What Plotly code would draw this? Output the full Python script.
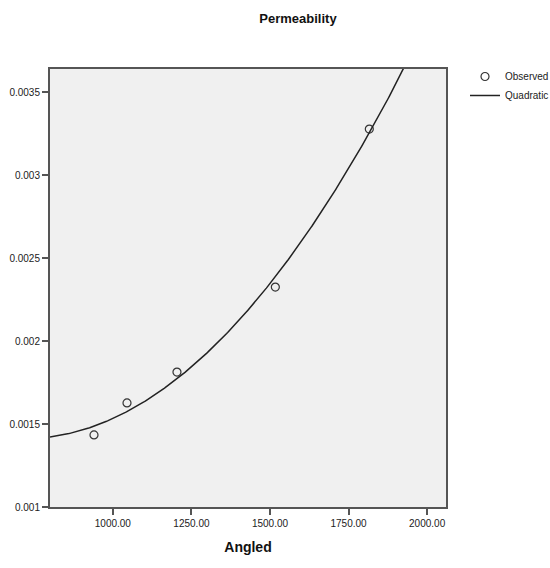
import numpy as np
import plotly.graph_objects as go

angled = [940, 1045, 1204, 1517, 1816]
permeability = [0.001434, 0.001627, 0.001813, 0.002325, 0.003277]

x_ticks = [1000, 1250, 1500, 1750, 2000]
x_labels = ["1000.00", "1250.00", "1500.00", "1750.00", "2000.00"]
y_ticks = [0.001, 0.0015, 0.002, 0.0025, 0.003, 0.0035]
y_labels = ["0.001", "0.0015", "0.002", "0.0025", "0.003", "0.0035"]

# Quadratic fit of the observed values
coef = np.polyfit(angled, permeability, 2)
xf = np.linspace(800, 2060, 400)
yf = np.polyval(coef, xf)

fig = go.Figure()
fig.add_trace(go.Scatter(
    x=angled, y=permeability, mode="markers", name="Observed",
    marker=dict(symbol="circle-open", size=8, color="#333333", line=dict(width=1.2, color="#333333")),
))
fig.add_trace(go.Scatter(
    x=xf, y=yf, mode="lines", name="Quadratic",
    line=dict(color="#222222", width=1.5),
))

axis_font = dict(family="Liberation Sans, Arial, sans-serif", size=10, color="#222222")
fig.update_layout(
    width=550, height=568,
    margin=dict(l=50, r=104, t=69, b=61, autoexpand=False),
    paper_bgcolor="white",
    plot_bgcolor="#f0f0f0",
    title=dict(text="<b>Permeability</b>", x=298/550, xanchor="center", y=1-18/568, yanchor="middle",
               font=dict(family="Liberation Sans, Arial, sans-serif", size=13, color="#111111")),
    xaxis=dict(range=[800, 2060], tickvals=x_ticks, ticktext=x_labels, showgrid=False, zeroline=False,
               ticks="outside", ticklen=6, tickcolor="#555555", tickwidth=1.5,
               showline=True, linecolor="#555555", linewidth=2, mirror=True,
               tickfont=axis_font,
               title=dict(text="<b>Angled</b>", font=dict(family="Liberation Sans, Arial, sans-serif", size=14, color="#111111"), standoff=14)),
    yaxis=dict(range=[0.001, 0.003639], tickvals=y_ticks, ticktext=y_labels, showgrid=False, zeroline=False,
               ticks="outside", ticklen=6, tickcolor="#555555", tickwidth=1.5,
               showline=True, linecolor="#555555", linewidth=2, mirror=True,
               tickfont=axis_font),
    legend=dict(x=1.048, y=1.016, xanchor="left", yanchor="top", bgcolor="rgba(0,0,0,0)",
                font=dict(family="Liberation Sans, Arial, sans-serif", size=10, color="#222222"),
                itemwidth=30, tracegroupgap=0),
    showlegend=True,
)

fig.write_html("out.html")
